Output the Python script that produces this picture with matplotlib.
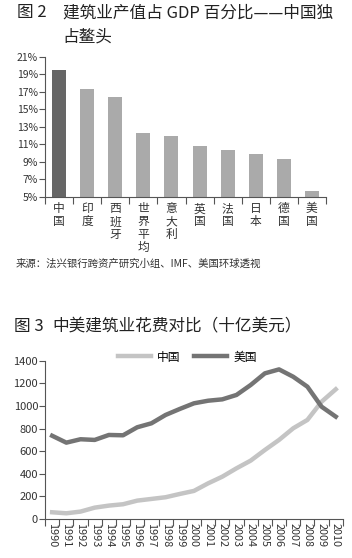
import numpy as np
import matplotlib.pyplot as plt

plt.rcParams['font.family'] = ['Noto Sans CJK SC', 'DejaVu Sans']

# figure 2 data
countries = ["中国", "印度", "西班牙", "世界平均", "意大利", "英国", "法国", "日本", "德国", "美国"]
share = [19.5, 17.3, 16.4, 12.3, 11.9, 10.8, 10.3, 9.9, 9.3, 5.7]

# figure 3 data
years = list(range(1990, 2011))
china = [59, 50, 65, 100, 118, 130, 162, 177, 192, 221, 248, 315, 374, 448, 516,
         610, 699, 802, 876, 1037, 1147]
usa = [736, 675, 705, 699, 743, 740, 811, 846, 920, 973, 1023, 1046, 1058, 1097,
       1185, 1288, 1323, 1258, 1170, 993, 905]

fig = plt.figure(figsize=(3.52, 5.58), dpi=100)
txt = '#333333'
ttl = '#222222'

fig.text(0.048, 0.977, "图 2", fontsize=12, color=ttl, va='center')
fig.text(0.178, 0.977, "建筑业产值占 GDP 百分比——中国独", fontsize=12, color=ttl, va='center')
fig.text(0.178, 0.933, "占鳌头", fontsize=12, color=ttl, va='center')

# top bar chart
ax = fig.add_axes([0.128, 0.6475, 0.798, 0.2505])
x = np.arange(len(countries))
colors = ['#666666'] + ['#aaaaaa'] * (len(countries) - 1)
ax.bar(x, np.array(share) - 5, bottom=5, width=0.5, color=colors)
ax.set_xlim(-0.5, len(countries) - 0.5)
ax.set_ylim(5, 21)
ax.set_yticks(range(5, 22, 2))
ax.set_yticklabels([f"{v}%" for v in range(5, 22, 2)])
ax.set_xticks(np.arange(-0.5, len(countries), 1))
ax.set_xticklabels([])
ax.set_xticks(x, minor=True)
ax.set_xticklabels(['\n'.join(c) for c in countries], minor=True, va='top',
                   linespacing=1.0)
ax.tick_params(axis='x', which='minor', length=0, pad=4, labelsize=8.5, labelcolor=txt)
ax.tick_params(axis='x', which='major', length=5, color='#555555')
ax.tick_params(axis='y', length=4, labelsize=7.5, labelcolor=txt, color='#555555', pad=1)
for s in ['top', 'right']:
    ax.spines[s].set_visible(False)
for s in ['left', 'bottom']:
    ax.spines[s].set_color('#555555')

fig.text(0.045, 0.528, "来源：法兴银行跨资产研究小组、IMF、美国环球透视", fontsize=7.5, color=txt,
         va='center')

fig.text(0.04, 0.414, "图 3", fontsize=12, color=ttl, va='center')
fig.text(0.15, 0.414, "中美建筑业花费对比（十亿美元）", fontsize=12, color=ttl, va='center')

# bottom line chart
ax2 = fig.add_axes([0.128, 0.070, 0.846, 0.2836])
xi = np.arange(len(years))
ax2.plot(xi, china, color='#c4c4c4', lw=3.2, label="中国")
ax2.plot(xi, usa, color='#747474', lw=3.2, label="美国")
ax2.set_xlim(-0.5, len(years) - 0.5)
ax2.set_ylim(0, 1400)
ax2.set_yticks(range(0, 1401, 200))
ax2.set_xticks(np.arange(-0.5, len(years), 1))
ax2.set_xticklabels([])
ax2.set_xticks(xi, minor=True)
ax2.set_xticklabels([str(y) for y in years], minor=True, rotation=-90, va='top')
ax2.tick_params(axis='x', which='minor', length=0, pad=3, labelsize=7.8, labelcolor=txt)
ax2.tick_params(axis='x', which='major', length=5, color='#555555')
ax2.tick_params(axis='y', length=4, labelsize=8, labelcolor=txt, color='#555555', pad=1)
for s in ['top', 'right']:
    ax2.spines[s].set_visible(False)
for s in ['left', 'bottom']:
    ax2.spines[s].set_color('#555555')
ax2.legend(loc='center', bbox_to_anchor=(0.477, 1.023), ncol=2, frameon=False,
           fontsize=8.5, handlelength=2.8, columnspacing=1.2, handletextpad=0.5,
           borderpad=0, borderaxespad=0)

fig.savefig("out.png", dpi=100)
